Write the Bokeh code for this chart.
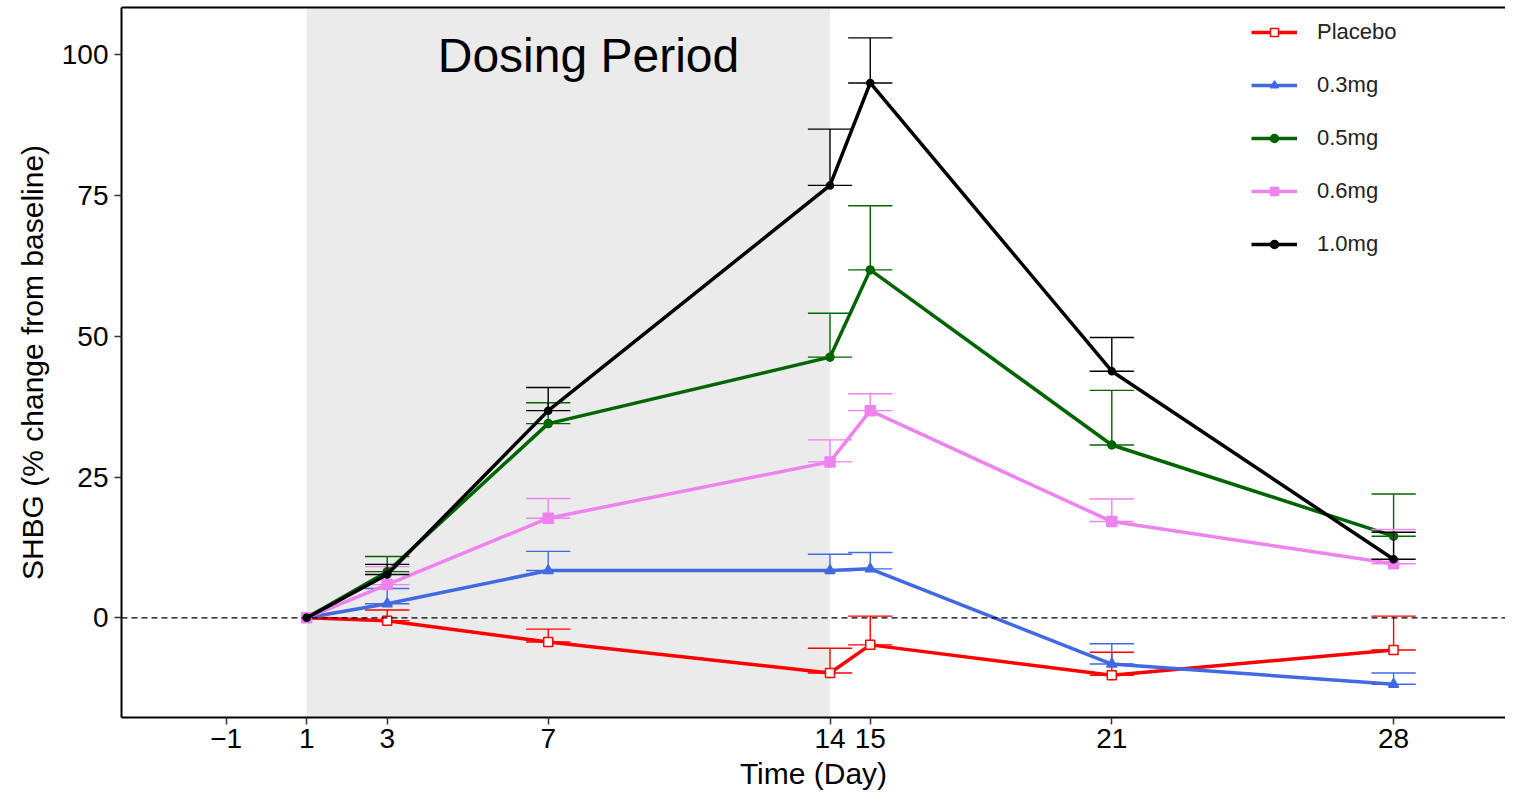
from bokeh.plotting import figure
from bokeh.models import (Range1d, FixedTicker, Span, BoxAnnotation, Label,
                          Legend, LegendItem, LinearAxis)
from bokeh.embed import file_html
from bokeh.resources import INLINE

# ---------------- data ----------------
days = [1, 3, 7, 14, 15, 21, 28]
x_ticks = [-1, 1, 3, 7, 14, 15, 21, 28]
y_ticks = [0, 25, 50, 75, 100]
dosing_start, dosing_end = 1, 14

series_names = ["Placebo", "0.3mg", "0.5mg", "0.6mg", "1.0mg"]
placebo = [0, -0.5, -4.3, -9.8, -4.8, -10.2, -5.7]
placebo_se = [0, 1.9, 2.3, 4.4, 5.1, 4.1, 6.0]
mg03 = [0, 2.5, 8.4, 8.4, 8.7, -8.2, -11.8]
mg03_se = [0, 2.7, 3.4, 2.9, 2.9, 3.6, 2.0]
mg05 = [0, 8.2, 34.5, 46.3, 61.8, 30.7, 14.5]
mg05_se = [0, 2.7, 3.7, 7.8, 11.4, 9.7, 7.5]
mg06 = [0, 5.9, 17.7, 27.7, 36.8, 17.1, 9.6]
mg06_se = [0, 3.2, 3.5, 3.9, 3.0, 4.0, 6.1]
mg10 = [0, 7.7, 36.8, 76.8, 95.0, 43.8, 10.4]
mg10_se = [0, 1.8, 4.1, 10.0, 8.0, 6.0, 4.8]

# ---------------- styles ----------------
styles = [
    dict(color="#FF0000", marker="square", size=9, fill="white"),
    dict(color="#4169E1", marker="triangle", size=10, fill="#4169E1"),
    dict(color="#006400", marker="circle", size=8, fill="#006400"),
    dict(color="#EE82EE", marker="square", size=10, fill="#EE82EE"),
    dict(color="#000000", marker="circle", size=7, fill="#000000"),
]
values = [placebo, mg03, mg05, mg06, mg10]
errors = [placebo_se, mg03_se, mg05_se, mg06_se, mg10_se]
FONT = "Liberation Sans"
cap_half = 0.55

p = figure(width=1505, height=792, output_backend="svg", toolbar_location=None,
           x_range=Range1d(-3.6, 30.78), y_range=Range1d(-17.7, 108.4),
           min_border_left=121, min_border_right=0, min_border_top=7,
           min_border_bottom=10)
p.outline_line_color = None
p.xgrid.visible = False
p.ygrid.visible = False
p.background_fill_color = "white"

# dosing period shading
p.add_layout(BoxAnnotation(left=dosing_start, right=dosing_end,
                           fill_color="#EBEBEB", fill_alpha=1.0,
                           line_color=None, level="underlay"))
p.add_layout(Label(x=(dosing_start + dosing_end) / 2 + 0.5, y=99.8,
                   text="Dosing Period", text_font=FONT,
                   text_font_size="48px", text_color="black",
                   text_align="center", text_baseline="middle"))

# zero line
p.add_layout(Span(location=0, dimension="width", line_color="black",
                  line_dash="6 4", line_width=1.3))

items = []
for name, vals, se, st in zip(series_names, values, errors, styles):
    xs = [d for d, e in zip(days, se) if e > 0]
    lo = [v for v, e in zip(vals, se) if e > 0]
    hi = [v + e for v, e in zip(vals, se) if e > 0]
    p.segment(x0=xs, y0=lo, x1=xs, y1=hi, line_color=st["color"], line_width=1.4)
    p.segment(x0=[x - cap_half for x in xs], y0=hi,
              x1=[x + cap_half for x in xs], y1=hi,
              line_color=st["color"], line_width=1.4)
    p.segment(x0=[x - cap_half for x in xs], y0=lo,
              x1=[x + cap_half for x in xs], y1=lo,
              line_color=st["color"], line_width=1.4)
    ln = p.line(days, vals, line_color=st["color"], line_width=3.5)
    sc = p.scatter(days, vals, marker=st["marker"], size=st["size"],
                   line_color=st["color"], fill_color=st["fill"], line_width=1.5)
    items.append(LegendItem(label=name, renderers=[ln, sc]))

legend = Legend(items=items, location=(1130, 460), orientation="vertical",
                glyph_width=46, glyph_height=20, label_height=20,
                spacing=27, padding=0, margin=0, label_standoff=20,
                label_text_font=FONT, label_text_font_size="22px",
                label_text_color="#222222", border_line_color=None,
                background_fill_alpha=0)
p.add_layout(legend)

# axes
for ax in (p.xaxis[0], p.yaxis[0]):
    ax.axis_line_width = 2
    ax.axis_line_color = "black"
    ax.major_tick_line_color = "#333333"
    ax.major_tick_line_width = 1.5
    ax.major_tick_in = 0
    ax.major_tick_out = 7
    ax.minor_tick_line_color = None
    ax.major_label_text_font = FONT
    ax.major_label_text_font_size = "28px"
    ax.major_label_text_color = "black"
    ax.axis_label_text_font = FONT
    ax.axis_label_text_font_size = "30px"
    ax.axis_label_text_font_style = "normal"
    ax.axis_label_text_color = "black"

p.xaxis.ticker = FixedTicker(ticks=x_ticks)
p.yaxis.ticker = FixedTicker(ticks=y_ticks)
p.xaxis.axis_label = "Time (Day)"
p.yaxis.axis_label = "SHBG (% change from baseline)"
p.xaxis.major_label_standoff = 4
p.xaxis.axis_label_standoff = 6
p.yaxis.major_label_standoff = 6
p.yaxis.axis_label_standoff = 10

top = LinearAxis(ticker=FixedTicker(ticks=[]), axis_line_width=2,
                 axis_line_color="black", major_tick_out=0, major_tick_in=0,
                 minor_tick_out=0, minor_tick_in=0, major_label_standoff=0,
                 major_label_text_font_size="0px")
p.add_layout(top, "above")

open("out.html", "w").write(file_html(p, INLINE))
